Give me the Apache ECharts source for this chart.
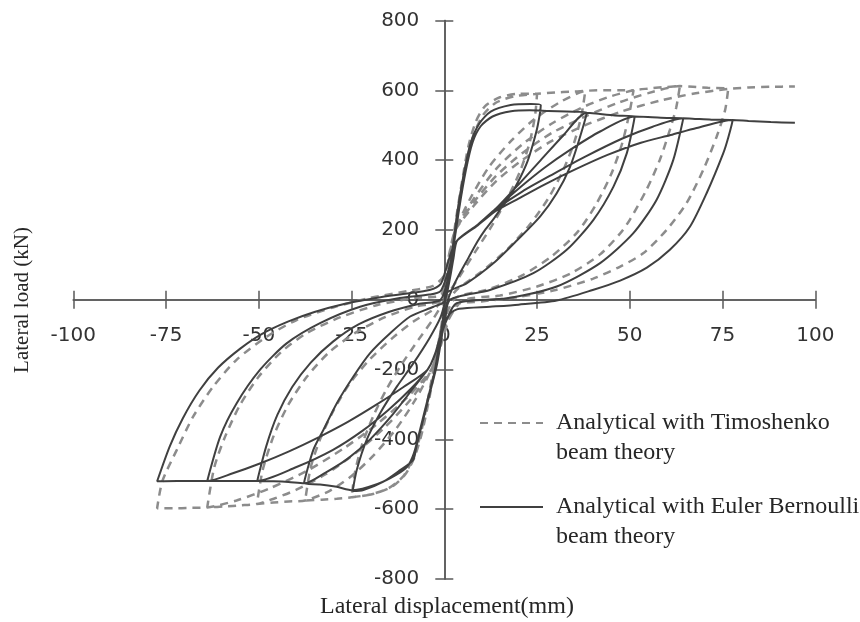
<!DOCTYPE html>
<html>
<head>
<meta charset="utf-8">
<title>Lateral load vs lateral displacement</title>
<script src="https://cdn.jsdelivr.net/npm/echarts@6/dist/echarts.min.js"></script>
<style>
  html, body { margin: 0; padding: 0; background: #fff; }
  #chart { width: 860px; height: 622px; }
</style>
</head>
<body>
<div id="chart"></div>
<script>
// axis ranges [min, max, step]
const xRange = [-100, 100, 25]
const yRange = [-800, 800, 200]

const timoName = 'Analytical with Timoshenko beam theory'
const ebName = 'Analytical with Euler Bernoulli beam theory'

// Euler Bernoulli (solid) — [displacement mm, load kN], one array per cycle
const ebCycle1 = [
  [0, 0], [1.7, 105], [3.5, 249], [5.3, 363], [7.1, 449], [9.4, 504], [12.5, 539], [17.9, 558], [23.3, 561], [26, 558],
  [25.2, 500], [24, 450], [22.4, 396], [20, 340], [17.9, 300], [15.5, 265], [13.4, 233], [11, 200], [8.9, 166], [6.5, 120], [4.4, 80], [2.5, 40], [0.8, -5],
  [0.2, -40], [-0.6, -100], [-2, -187], [-4, -272], [-6, -357], [-7.5, -420], [-8.4, -459], [-11.9, -488], [-16.4, -521], [-21.8, -545], [-24.7, -548],
  [-23.6, -488], [-20.9, -401], [-17.3, -325], [-12.8, -249], [-8.4, -183], [-4, -110], [-1, -50], [0.3, 0],
]
const ebCycle2 = [
  [1, 40], [2.2, 130], [4, 260], [5.8, 370], [7.6, 450], [9.8, 497], [13, 525], [18, 540], [23, 543], [28, 541], [33, 539], [38.4, 537],
  [36.6, 467], [33.9, 381], [30.3, 305], [25.8, 238], [19.7, 171], [13.3, 105], [6, 47], [0.6, 19],
  [-0.3, -50], [-1.3, -120], [-2.6, -205], [-4.6, -290], [-6.6, -375], [-8.2, -440], [-10, -478], [-13, -502], [-18, -528], [-24.7, -546], [-29, -536], [-33.5, -529], [-37.8, -526],
  [-35.3, -430], [-32.6, -373], [-29, -297], [-24.5, -220], [-20, -153], [-14.6, -96], [-9.2, -48], [-2.9, -20], [0, -5],
]
const ebCycle3 = [
  [1.5, 60], [2.5, 120], [3.5, 170], [9, 215], [14, 262], [20, 330], [26, 400], [32, 470], [38.4, 536], [42, 532], [46, 528], [51.3, 525],
  [49.2, 420], [45.6, 324], [40.2, 229], [33, 143], [24, 76], [12.3, 28], [1.5, 0],
  [0.2, -60], [-1.5, -120], [-2.8, -165], [-4.5, -200], [-9, -262], [-14, -330], [-20, -400], [-26, -455], [-32, -495], [-37.8, -526], [-42, -522], [-46, -520], [-50.4, -519],
  [-48, -420], [-45, -330], [-41, -250], [-36, -180], [-30, -120], [-23, -70], [-15, -35], [-7, -12], [-1, 0],
]
const ebCycle4 = [
  [1.2, 70], [2.4, 125], [3.5, 170], [9, 215], [14, 262], [20, 318], [27, 378], [34, 430], [42, 482], [51.3, 525], [56, 523], [60, 521], [64.4, 520],
  [61.7, 400], [57.2, 286], [50.9, 190], [42, 105], [30.3, 38], [16.8, 4], [3.3, -10],
  [0.5, -60], [-1.5, -120], [-2.8, -165], [-4.5, -200], [-9, -255], [-15, -315], [-22, -375], [-30, -430], [-40, -480], [-50.4, -519], [-55, -519], [-59, -519], [-63.9, -519],
  [-60.4, -392], [-56, -297], [-49.7, -201], [-42.5, -125], [-33.5, -67], [-22.7, -20], [-12, 5], [-4, 15], [-1, 25],
]
const ebCycle5 = [
  [1, 80], [2.3, 130], [3.5, 170], [9, 215], [14, 260], [21, 310], [29, 358], [38, 410], [48, 462], [56, 495], [64.4, 520], [68, 518], [72, 516], [77.7, 515],
  [76.6, 467], [75.2, 420], [70.7, 305], [66.2, 209], [60.8, 143], [54.6, 92], [47.4, 55], [40, 28], [30.3, -2], [20, -14], [12.3, -20], [4, -26], [1.5, -40],
  [-0.5, -90], [-2, -140], [-4.5, -200], [-11, -250], [-18.2, -300], [-26, -350], [-33.5, -392], [-42, -435], [-49.7, -469], [-57, -497], [-63.9, -519], [-68, -519], [-72, -519], [-77.4, -520],
  [-74, -420], [-70.5, -340], [-66, -260], [-61, -195], [-55, -140], [-49, -97], [-42, -62], [-35, -35], [-27, -12], [-18, 6], [-10, 18], [-4, 28], [-1, 45],
]
const ebFinal = [
  [0.5, 90], [2, 140], [3.5, 170], [9, 213], [14, 255], [20, 290], [27, 330], [35, 372], [44, 415], [53, 450], [61, 472], [68, 492], [77.7, 515],
  [82, 512], [88, 509], [94.5, 507],
]

// Timoshenko (dashed)
const tmCycle1 = [
  [0, 0], [1.5, 100], [3, 220], [4.8, 340], [6.5, 440], [8.5, 510], [11, 555], [15, 580], [20, 590], [25, 590],
  [24.5, 530], [23, 450], [20.5, 370], [17, 290], [13, 215], [8.5, 140], [4, 65], [0.5, 5],
  [-0.3, -40], [-2, -160], [-4, -280], [-6, -380], [-8, -450], [-10.5, -500], [-14, -535], [-19, -556], [-25, -566],
  [-24, -490], [-22, -410], [-19, -330], [-15.5, -255], [-11.5, -185], [-7, -115], [-3, -55], [0, 0],
]
const tmCycle2 = [
  [1, 50], [2.3, 150], [4, 275], [6, 395], [8, 475], [10.5, 530], [14, 565], [19, 583], [25, 590], [30, 594], [34, 596], [38, 598],
  [37, 530], [35, 450], [32, 370], [28, 290], [23, 215], [17, 145], [10, 80], [3, 25],
  [0, -30], [-1, -90], [-2.5, -175], [-4.5, -290], [-6.5, -390], [-8.5, -455], [-11, -505], [-15, -540], [-20, -558], [-25, -566], [-29, -570], [-33, -573], [-37.5, -575],
  [-36, -480], [-33.5, -400], [-30, -320], [-25.5, -240], [-20, -170], [-14, -110], [-8, -60], [-2, -20],
]
const tmCycle3 = [
  [0, 30], [1.5, 120], [3, 200], [7, 290], [12, 380], [18, 455], [24, 515], [31, 565], [38, 598], [43, 600], [47, 600], [51, 600],
  [50, 540], [48, 450], [45, 360], [41, 275], [36, 195], [29, 125], [21, 70], [12, 30], [3, 5],
  [0, -60], [-1.5, -140], [-3.5, -200], [-8, -290], [-13, -370], [-19, -445], [-25, -505], [-31, -548], [-37.5, -575], [-42, -578], [-46, -581], [-50.5, -585],
  [-49, -490], [-46, -390], [-42, -300], [-37, -220], [-31, -150], [-24, -95], [-16, -50], [-8, -20], [-1, -2],
]
const tmCycle4 = [
  [0.5, 60], [1.8, 140], [3, 200], [8, 290], [14, 375], [21, 445], [29, 505], [37, 550], [44, 580], [51, 600], [55, 605], [59, 609], [63.5, 612],
  [62.5, 550], [60.8, 487], [58.1, 401], [54.5, 315], [50, 229], [47.4, 190], [42, 130], [34, 75], [25, 38], [15, 12], [5, -2],
  [0.5, -70], [-1.5, -140], [-3.5, -200], [-9, -285], [-16, -365], [-24, -440], [-32, -500], [-40, -545], [-46, -570], [-50.5, -585], [-55, -589], [-59, -592], [-63.9, -595],
  [-62, -480], [-59, -390], [-55, -300], [-50, -220], [-44, -150], [-37, -95], [-28, -50], [-18, -15], [-8, 5], [-1, 12],
]
const tmCycle5 = [
  [0.5, 80], [1.8, 150], [3, 200], [8, 280], [14, 355], [21, 420], [29, 478], [38, 525], [47, 565], [55, 592], [63.5, 612], [67, 610], [71, 607], [76.5, 604],
  [75.7, 544], [73.4, 467], [69.8, 372], [65.3, 277], [59.9, 200], [53.6, 133], [47.4, 95], [40, 60], [30, 28], [20, 8], [10, -5], [3, -15],
  [0.5, -80], [-1.5, -150], [-3.5, -200], [-10, -280], [-18, -355], [-27, -425], [-37, -490], [-47, -540], [-56, -575], [-63.9, -595], [-68, -596], [-72, -597], [-77.4, -597],
  [-76, -520], [-72.1, -430], [-67.7, -335], [-62.3, -249], [-56, -172], [-47.9, -106], [-39.8, -58], [-30, -22], [-20, 5], [-10, 25], [-3, 40],
]
const tmFinal = [
  [0, 70], [1.5, 140], [3, 200], [8, 270], [14, 340], [21, 400], [29, 455], [38, 500], [48, 540], [58, 570], [67, 590], [76.5, 604],
  [82, 608], [88, 610], [94.5, 611],
]

const ebPath = [].concat(ebCycle1, ebCycle2, ebCycle3, ebCycle4, ebCycle5, ebFinal)
const tmPath = [].concat(tmCycle1, tmCycle2, tmCycle3, tmCycle4, tmCycle5, tmFinal)

const axisColor = '#595959'
const serif = '"Liberation Serif", "Times New Roman", serif'

// grid box; the axes are shifted onto the zero lines with offset
const gridBox = { left: 73.3, right: 44.7, top: 20.5, bottom: 43 }
const plotW = 860 - gridBox.left - gridBox.right
const plotH = 622 - gridBox.top - gridBox.bottom
const shiftX = -plotW / 2
const shiftY = -plotH / 2

function axisCommon(range, labels, margin) {
  return {
    type: 'value',
    min: range[0], max: range[1], interval: range[2],
    axisLine: { onZero: false, lineStyle: { color: axisColor, width: 1.5 } },
    axisTick: { show: true, length: 9, lineStyle: { color: axisColor, width: 1.5 } },
    axisLabel: {
      show: labels, margin, color: '#333',
      fontFamily: 'DejaVu Sans', fontSize: 20,
      showMinLabel: true, showMaxLabel: true,
    },
    splitLine: { show: false },
  }
}

const chart = echarts.init(document.getElementById('chart'))
chart.setOption({
  backgroundColor: '#fff',
  animation: false,
  grid: Object.assign({ containLabel: false }, gridBox),
  xAxis: [
    Object.assign(axisCommon(xRange, true, 26), { position: 'bottom', offset: shiftY }),
    Object.assign(axisCommon(xRange, false, 26), { position: 'top', offset: shiftY }),
  ],
  yAxis: [
    Object.assign(axisCommon(yRange, true, 25), { position: 'left', offset: shiftX }),
    Object.assign(axisCommon(yRange, false, 25), { position: 'right', offset: shiftX }),
  ],
  legend: {
    orient: 'vertical',
    left: 479, top: 378, padding: 0,
    itemWidth: 63, itemHeight: 12, itemGap: -6,
    itemStyle: { opacity: 0 },
    data: [timoName, ebName],
    formatter: n => '\n' + n.replace(' beam', '\nbeam'),
    textStyle: {
      fontFamily: serif, fontSize: 24, color: '#262626',
      lineHeight: 30, padding: [0, 0, 0, 8],
    },
  },
  graphic: [
    {
      type: 'text', x: 447, y: 607,
      style: { text: 'Lateral displacement(mm)', font: '24px ' + serif, fill: '#262626', align: 'center', verticalAlign: 'middle' },
    },
    {
      type: 'text', x: 22, y: 300, rotation: Math.PI / 2,
      style: { text: 'Lateral load (kN)', font: '21px ' + serif, fill: '#262626', align: 'center', verticalAlign: 'middle' },
    },
  ],
  series: [
    {
      name: timoName, type: 'line', data: tmPath,
      showSymbol: false, symbol: 'none', smooth: 0.25,
      lineStyle: { color: '#8c8c8c', width: 2.5, type: [8, 6] },
      itemStyle: { color: '#8c8c8c' },
    },
    {
      name: ebName, type: 'line', data: ebPath,
      showSymbol: false, symbol: 'none', smooth: 0.25,
      lineStyle: { color: '#404040', width: 2 },
      itemStyle: { color: '#404040' },
    },
  ],
})
</script>
</body>
</html>
